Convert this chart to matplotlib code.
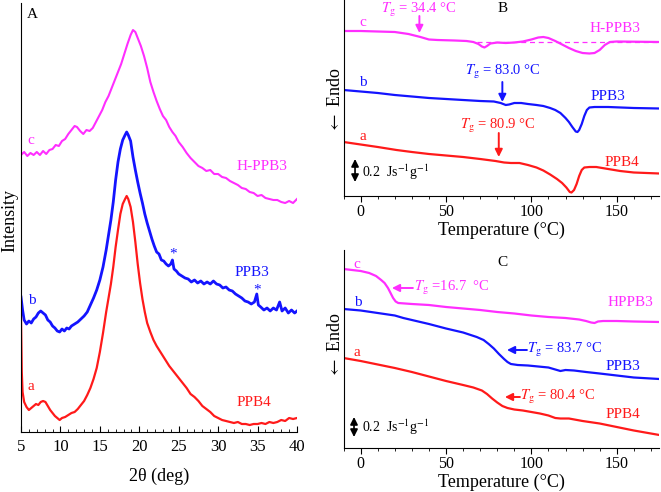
import matplotlib
matplotlib.use("Agg")
import matplotlib.pyplot as plt

plt.rcParams["font.family"] = ["Liberation Serif", "DejaVu Serif"]
plt.rcParams["mathtext.fontset"] = "stix"

MAG = "#ff2eff"
BLUE = "#1414ff"
RED = "#ff1a1a"

# ---------------------------------------------------------------------------
# Panel A: XRD patterns (2theta, intensity in arbitrary offset units)
# ---------------------------------------------------------------------------
xrd_c_x = [5.0, 5.4, 5.8, 6.2, 6.6, 7.0, 7.4, 7.8, 8.2, 8.6, 9.0, 9.4, 9.8,
           10.2, 10.6, 11.0, 11.4, 11.8, 12.1, 12.5, 12.9, 13.3, 13.7, 14.1,
           14.5, 14.9, 15.3, 15.7, 16.1, 16.5, 16.9, 17.3, 17.7, 18.1, 18.5,
           18.9, 19.2, 19.5, 19.8, 20.2, 20.6, 21.0, 21.4, 21.8, 22.2, 22.6,
           23.0, 23.4, 23.8, 24.2, 24.6, 25.0, 25.5, 26.0, 26.5, 27.0, 27.5,
           28.0, 28.5, 29.0, 29.5, 30.0, 30.5, 31.0, 31.5, 32.0, 32.5, 33.0,
           33.5, 34.0, 34.5, 35.0, 35.5, 36.0, 36.5, 37.0, 37.5, 38.0, 38.5,
           39.0, 39.5, 40.0]
xrd_c_y = [277, 280, 276, 279, 277, 280, 277, 281, 278, 282, 283, 287, 286,
           291, 293, 298, 302, 306, 305, 301, 298, 302, 301, 304, 310, 316,
           322, 330, 336, 344, 352, 360, 368, 378, 388, 397, 402, 400, 394,
           386, 376, 364, 350, 340, 331, 323, 316, 312, 305, 300, 296, 290,
           285, 279, 274, 270, 266, 264, 261, 262, 258, 258, 255, 254, 251,
           249, 247, 244, 243, 240, 239, 236, 237, 234, 233, 232, 232, 230,
           229, 231, 229, 233]

xrd_b_x = [5.0, 5.2, 5.4, 5.7, 6.0, 6.3, 6.6, 6.9, 7.2, 7.5, 7.8, 8.1, 8.4,
           8.7, 9.0, 9.3, 9.6, 9.9, 10.2, 10.5, 10.8, 11.1, 11.4, 11.8, 12.2,
           12.6, 13.0, 13.4, 13.8, 14.2, 14.6, 15.0, 15.4, 15.8, 16.1, 16.4,
           16.7, 17.0, 17.3, 17.6, 17.9, 18.2, 18.4, 18.6, 18.9, 19.2, 19.5,
           19.8, 20.1, 20.4, 20.7, 21.0, 21.3, 21.6, 21.9, 22.2, 22.5, 22.8,
           23.1, 23.4, 23.7, 24.0, 24.2, 24.4, 24.7, 25.0, 25.4, 25.8, 26.2,
           26.6, 27.0, 27.4, 27.8, 28.2, 28.6, 29.0, 29.4, 29.8, 30.2, 30.6,
           31.0, 31.4, 31.8, 32.2, 32.6, 33.0, 33.4, 33.8, 34.2, 34.6, 34.9,
           35.1, 35.4, 35.8, 36.2, 36.6, 37.0, 37.4, 37.8, 38.1, 38.5, 38.9,
           39.3, 39.7, 40.0]
xrd_b_y = [135, 122, 112, 108, 111, 109, 113, 115, 119, 121, 119, 117, 112,
           110, 106, 104, 101, 100, 103, 101, 104, 103, 106, 108, 110, 113,
           116, 120, 127, 134, 142, 152, 165, 182, 197, 212, 230, 252, 270,
           283, 292, 297, 300, 297, 291, 275, 262, 250, 239, 229, 218, 209,
           201, 193, 186, 180, 178, 172, 171, 168, 166, 168, 172, 163, 161,
           158, 156, 154, 153, 150, 152, 149, 151, 148, 150, 148, 151, 148,
           147, 144, 145, 142, 141, 138, 136, 134, 131, 130, 128, 130, 138,
           127, 125, 122, 124, 121, 124, 122, 130, 121, 124, 119, 122, 119,
           121]

xrd_a_x = [5.0, 5.1, 5.2, 5.4, 5.7, 6.0, 6.3, 6.6, 6.9, 7.2, 7.5, 7.8, 8.1,
           8.4, 8.7, 9.0, 9.3, 9.6, 9.9, 10.2, 10.6, 11.0, 11.4, 11.8, 12.2,
           12.6, 13.0, 13.4, 13.8, 14.2, 14.6, 15.0, 15.4, 15.8, 16.1, 16.4,
           16.7, 17.0, 17.3, 17.6, 17.9, 18.2, 18.4, 18.6, 18.9, 19.2, 19.5,
           19.8, 20.1, 20.4, 20.7, 21.0, 21.4, 21.8, 22.2, 22.6, 23.0, 23.4,
           23.8, 24.2, 24.6, 25.0, 25.5, 26.0, 26.5, 27.0, 27.5, 28.0, 28.5,
           29.0, 29.5, 30.0, 30.5, 31.0, 31.5, 32.0, 32.5, 33.0, 33.5, 34.0,
           34.5, 35.0, 35.5, 36.0, 36.5, 37.0, 37.5, 38.0, 38.5, 39.0, 39.5,
           40.0]
xrd_a_y = [115, 60, 40, 30, 25, 22, 24, 26, 28, 27, 30, 31, 30, 26, 22, 19,
           16, 14, 12, 14, 15, 17, 19, 20, 23, 27, 31, 37, 44, 53, 64, 80,
           99, 120, 134, 148, 165, 185, 202, 218, 228, 233, 236, 233, 225,
           210, 190, 168, 149, 133, 120, 109, 100, 92, 86, 81, 76, 71, 66,
           62, 58, 54, 49, 44, 38, 35, 31, 26, 23, 20, 16, 14, 12, 11, 10, 9,
           10, 8, 8, 7, 8, 8, 9, 8, 10, 9, 10, 12, 11, 14, 13, 14]

# ---------------------------------------------------------------------------
# Panel B: DSC first heating (temperature, heat flow offset)
# ---------------------------------------------------------------------------
dscb_c_t = [-10, 0, 10, 20, 28, 35, 40, 45, 55, 62, 66, 69, 71, 72.5, 74, 76,
            80, 85, 90, 95, 100, 104, 107, 110, 114, 118, 122, 126, 130, 134,
            137, 140, 143, 146, 150, 175]
dscb_c_y = [165, 165, 164.5, 164, 162, 159, 156.5, 156, 155.5, 155, 154, 152,
            149.5, 148.5, 150, 152.5, 153.5, 153, 153.5, 154.5, 156.5, 158.5,
            159, 158, 155, 151.5, 148, 145, 143, 142.5, 143, 146, 151, 154,
            154.5, 154]
dscb_base_t = [68, 175]
dscb_base_y = [154, 154]

dscb_b_t = [-10, 0, 10, 20, 30, 40, 50, 60, 70, 78, 82, 85, 87, 90, 94, 98,
            103, 107, 111, 114, 117, 120, 122, 124, 126, 127, 128, 129.5, 131,
            132.5, 134, 137, 145, 160, 175]
dscb_b_y = [106, 104.5, 103, 101, 99.5, 98, 97, 96, 95, 94.5, 93, 91, 91.5,
            93, 93, 92, 91, 90, 88, 86, 83, 78, 74, 69, 64.5, 64, 66, 72, 80,
            86, 88.5, 89, 89, 88, 87.5]

dscb_a_t = [-10, 0, 10, 21, 30, 40, 50, 60, 70, 79, 84, 88, 93, 98, 103, 107,
            111, 115, 118, 120.5, 122.5, 123.5, 125, 126.5, 128, 129.5, 131,
            134, 138, 145, 152, 160, 175]
dscb_a_y = [54, 51.5, 49, 46, 44, 42, 40.5, 39, 37, 35, 33.5, 33, 33, 31,
            28.5, 25.5, 21.5, 17, 13, 8.5, 4, 3.5, 6, 12, 20, 26, 28.5, 29,
            29, 27, 25, 23.5, 22.5]

# ---------------------------------------------------------------------------
# Panel C: DSC second heating
# ---------------------------------------------------------------------------
dscc_c_t = [-10, -5, 0, 5, 9, 12, 14, 16, 17.5, 19, 20.5, 22, 30, 40, 50,
            60, 70, 80, 90, 100, 110, 120, 128, 132, 135, 137, 139, 142, 150,
            160, 175]
dscc_c_y = [179, 178, 177, 175, 172, 168, 165, 160, 155, 150, 146.5, 145,
            144, 143, 141, 139.5, 138, 136, 134.5, 132.5, 131, 130, 128.5,
            127, 125.5, 125, 126.5, 127, 127, 126.5, 126]

dscc_b_t = [-10, 0, 10, 20, 25, 30, 40, 50, 60, 68, 72, 75, 78, 81, 84, 86,
            88, 92, 98, 104, 110, 114, 117, 120, 125, 132, 140, 150, 160, 175]
dscc_b_y = [139, 137.5, 135, 132.5, 130, 128, 124, 119.5, 115.5, 111, 108,
            104, 99.5, 94, 89, 86, 84, 83, 82.5, 81.5, 80.5, 78.5, 77, 78,
            77.5, 76, 74.5, 72.5, 70.5, 69]

dscc_a_t = [-10, 0, 10, 20, 30, 40, 50, 60, 66, 71, 74, 77, 80, 83, 86, 90,
            95, 100, 105, 110, 114, 117, 122, 130, 140, 150, 160, 175]
dscc_a_y = [90, 87, 83.5, 80, 76, 71.5, 67, 63, 60.5, 57.5, 54, 49.5, 45.5,
            42, 40, 38.5, 37.5, 36, 34.5, 32.5, 30, 29.5, 29.5, 27, 24.5, 21,
            17.5, 13]

TG_B = [34.4, 83.0, 80.9]
TG_C = [16.7, 83.7, 80.4]

FS_TICK = 12
FS_LAB = 13
FS_TXT = 11


def arrow(ax, xy, xytext, color, style="-|>", lw=1.4):
    ax.annotate("", xy=xy, xytext=xytext,
                arrowprops=dict(arrowstyle=style, color=color, lw=lw,
                                mutation_scale=11, shrinkA=0, shrinkB=0))


def dsc_axes(ax, ylim, bar_y):
    ax.set_xlim(-10, 175)
    ax.set_ylim(*ylim)
    for s in ["top", "right"]:
        ax.spines[s].set_visible(False)
    ax.set_yticks([])
    ax.set_xticks([0, 50, 100, 150])
    ax.set_xticks(range(-10, 176, 10), minor=True)
    ax.tick_params(axis="x", which="major", direction="out", length=4,
                   labelsize=11.5, pad=2)
    ax.tick_params(axis="x", which="minor", direction="out", length=2.5)
    ax.set_xlabel("Temperature (°C)", fontsize=FS_LAB, labelpad=1)
    # scale bar
    ax.text(0.8, bar_y, "0.2  Js$^{-1}$g$^{-1}$", fontsize=10, va="center",
            ha="left")


fig = plt.figure(figsize=(6.61, 4.92), dpi=100)

# ---------------- Panel A ----------------
axA = fig.add_axes([21 / 661, 1 - 432 / 492, 276 / 661, 429 / 492])
axA.plot(xrd_c_x, xrd_c_y, color=MAG, lw=1.5)
axA.plot(xrd_b_x, xrd_b_y, color=BLUE, lw=2.0)
axA.plot(xrd_a_x, xrd_a_y, color=RED, lw=1.6)
axA.set_xlim(5, 40)
axA.set_ylim(0, 429)
for s in ["top", "right"]:
    axA.spines[s].set_visible(False)
axA.set_yticks([])
axA.set_xticks(range(5, 41, 5))
axA.set_xticks(range(5, 41, 1), minor=True)
axA.tick_params(axis="x", which="major", direction="in", length=4,
                labelsize=FS_TICK, pad=5)
axA.tick_params(axis="x", which="minor", direction="in", length=2.5)
axA.set_xlabel("2θ (deg)", fontsize=FS_LAB, labelpad=9)
axA.text(6.5, 417, "A", fontsize=FS_TXT, ha="center", va="center")
axA.text(6.3, 292, "c", color=MAG, fontsize=FS_TXT, ha="center", va="center")
axA.text(35.6, 266, "H-PPB3", color=MAG, fontsize=FS_TXT, ha="center", va="center")
axA.text(6.4, 132, "b", color=BLUE, fontsize=FS_TXT, ha="center", va="center")
axA.text(34.3, 160, "PPB3", color=BLUE, fontsize=FS_TXT, ha="center", va="center")
axA.text(24.3, 178, "*", color=BLUE, fontsize=FS_TXT, ha="center", va="center")
axA.text(34.9, 142, "*", color=BLUE, fontsize=FS_TXT, ha="center", va="center")
axA.text(6.3, 45, "a", color=RED, fontsize=FS_TXT, ha="center", va="center")
axA.text(34.5, 29, "PPB4", color=RED, fontsize=FS_TXT, ha="center", va="center")
fig.text(10 / 661, 1 - 220 / 492, "Intensity", rotation=90, fontsize=FS_LAB,
         ha="center", va="center")

# ---------------- Panel B ----------------
axB = fig.add_axes([343.6 / 661, 1 - 196 / 492, 315.8 / 661, 196 / 492])
axB.plot(dscb_c_t, dscb_c_y, color=MAG, lw=1.6)
axB.plot(dscb_base_t, dscb_base_y, color=MAG, lw=0.9, ls=(0, (4, 3)))
axB.plot(dscb_b_t, dscb_b_y, color=BLUE, lw=1.6)
axB.plot(dscb_a_t, dscb_a_y, color=RED, lw=1.6)
dsc_axes(axB, (0, 196), 24)
arrow(axB, (-3.3, 14), (-3.3, 37), "black", style="<|-|>", lw=1.2)
axB.text(83.4, 188, "B", fontsize=FS_TXT, ha="center", va="center")
axB.text(1.3, 173, "c", color=MAG, fontsize=FS_TXT, ha="center", va="center")
axB.text(149, 168, "H-PPB3", color=MAG, fontsize=FS_TXT, ha="center", va="center")
axB.text(33.8, 186, r"$T_{\rm g}$ = %.1f °C" % TG_B[0], color=MAG,
         fontsize=10.5, ha="center", va="center")
arrow(axB, (TG_B[0], 163), (TG_B[0], 180), MAG)
axB.text(1.3, 113, "b", color=BLUE, fontsize=FS_TXT, ha="center", va="center")
axB.text(145, 99, "PPB3", color=BLUE, fontsize=FS_TXT, ha="center", va="center")
axB.text(83.4, 124, r"$T_{\rm g}$ = %.1f °C" % TG_B[1], color=BLUE,
         fontsize=10.5, ha="center", va="center")
arrow(axB, (TG_B[1], 94), (TG_B[1], 114), BLUE)
axB.text(1.3, 60, "a", color=RED, fontsize=FS_TXT, ha="center", va="center")
axB.text(153, 33, "PPB4", color=RED, fontsize=FS_TXT, ha="center", va="center")
axB.text(80.5, 70, r"$T_{\rm g}$ = %.1f °C" % TG_B[2], color=RED,
         fontsize=10.5, ha="center", va="center")
arrow(axB, (TG_B[2], 39), (TG_B[2], 63), RED)
fig.text(336 / 661, 1 - 100 / 492, r"$\leftarrow$ Endo", rotation=90,
         fontsize=FS_LAB, ha="center", va="center")

# ---------------- Panel C ----------------
axC = fig.add_axes([343.6 / 661, 1 - 448 / 492, 315.8 / 661, 198 / 492])
axC.plot(dscc_c_t, dscc_c_y, color=MAG, lw=1.6)
axC.plot(dscc_b_t, dscc_b_y, color=BLUE, lw=1.6)
axC.plot(dscc_a_t, dscc_a_y, color=RED, lw=1.6)
dsc_axes(axC, (0, 198), 21)
arrow(axC, (-3.9, 11), (-3.9, 31), "black", style="<|-|>", lw=1.2)
axC.text(82.8, 185, "C", fontsize=FS_TXT, ha="center", va="center")
axC.text(-2.2, 184, "c", color=MAG, fontsize=FS_TXT, ha="center", va="center")
axC.text(157.8, 145, "HPPB3", color=MAG, fontsize=FS_TXT, ha="center", va="center")
arrow(axC, (18.3, 160), (30.6, 160), MAG)
axC.text(31.5, 160, r"$T_{\rm g}$ =%.1f  °C" % TG_C[0], color=MAG,
         fontsize=10.5, ha="left", va="center")
axC.text(-1.6, 145, "b", color=BLUE, fontsize=FS_TXT, ha="center", va="center")
axC.text(153.7, 81, "PPB3", color=BLUE, fontsize=FS_TXT, ha="center", va="center")
arrow(axC, (85.7, 98), (97.4, 98), BLUE)
axC.text(97.6, 98, r"$T_{\rm g}$ = %.1f °C" % TG_C[1], color=BLUE,
         fontsize=10.5, ha="left", va="center")
axC.text(-2.2, 96, "a", color=RED, fontsize=FS_TXT, ha="center", va="center")
axC.text(153.7, 33, "PPB4", color=RED, fontsize=FS_TXT, ha="center", va="center")
arrow(axC, (84.5, 51), (93.3, 51), RED)
axC.text(93.5, 51, r"$T_{\rm g}$ = %.1f °C" % TG_C[2], color=RED,
         fontsize=10.5, ha="left", va="center")
fig.text(336 / 661, 1 - 345 / 492, r"$\leftarrow$ Endo", rotation=90,
         fontsize=FS_LAB, ha="center", va="center")

fig.savefig("out.png", dpi=100)
